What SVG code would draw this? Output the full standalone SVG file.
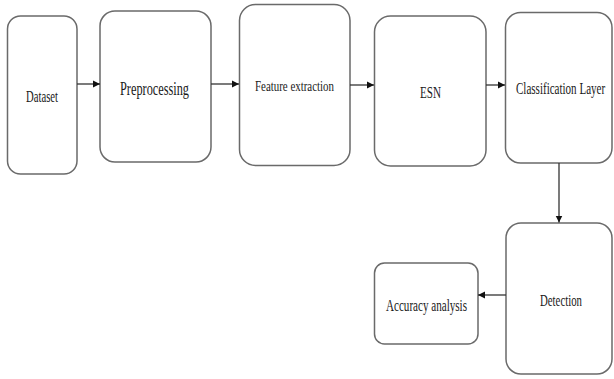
<svg xmlns="http://www.w3.org/2000/svg" width="614" height="379" viewBox="0 0 614 379">
<defs>
<marker id="ah" markerWidth="8" markerHeight="8" refX="7" refY="4" orient="auto" markerUnits="userSpaceOnUse">
<path d="M0,0.5 L7,4 L0,7.5 z" fill="#111"/>
</marker>
<style>
.box{fill:#fff;stroke:#6a6a6a;stroke-width:1.5}
.lbl{font-family:"Liberation Serif","Times New Roman",serif;fill:#1a1a1a;text-anchor:start}
.con{stroke:#333;stroke-width:1.3;fill:none;marker-end:url(#ah)}
</style>
</defs>
<rect width="614" height="379" fill="#fff"/>
<g id="dataset"><rect class="box" x="7.5" y="16" width="69.5" height="158" rx="13"/><text class="lbl" x="26" y="101.5" font-size="17" textLength="32" lengthAdjust="spacingAndGlyphs">Dataset</text></g>
<g id="preprocessing"><rect class="box" x="100" y="11" width="111" height="151" rx="15"/><text class="lbl" x="120" y="95" font-size="19" textLength="69" lengthAdjust="spacingAndGlyphs">Preprocessing</text></g>
<g id="feature"><rect class="box" x="239.5" y="4.5" width="110.5" height="161" rx="16"/><text class="lbl" x="255" y="90.5" font-size="15" textLength="79" lengthAdjust="spacingAndGlyphs">Feature extraction</text></g>
<g id="esn"><rect class="box" x="374.5" y="16" width="111.5" height="150" rx="16"/><text class="lbl" x="420" y="97.5" font-size="16" textLength="21" lengthAdjust="spacingAndGlyphs">ESN</text></g>
<g id="classification"><rect class="box" x="505.5" y="12.5" width="106.5" height="150.5" rx="15"/><text class="lbl" transform="translate(516,94) scale(0.67,1)" x="0" y="0" font-size="16" textLength="133" lengthAdjust="spacingAndGlyphs">Classification  Layer</text></g>
<g id="detection"><rect class="box" x="506" y="223" width="106" height="151" rx="15"/><text class="lbl" x="540" y="305.5" font-size="17" textLength="42" lengthAdjust="spacingAndGlyphs">Detection</text></g>
<g id="accuracy"><rect class="box" x="374.5" y="263" width="103.5" height="81" rx="10"/><text class="lbl" x="386" y="310.5" font-size="16" textLength="81" lengthAdjust="spacingAndGlyphs">Accuracy  analysis</text></g>
<g id="connectors">
<line class="con" x1="77" y1="84" x2="100" y2="84"/>
<line class="con" x1="211" y1="84" x2="239" y2="84"/>
<line class="con" x1="350" y1="85" x2="374" y2="85"/>
<line class="con" x1="486" y1="85" x2="505" y2="85"/>
<line class="con" x1="559" y1="163" x2="559" y2="222.5"/>
<line class="con" x1="506" y1="295" x2="478" y2="295"/>
</g>
</svg>
